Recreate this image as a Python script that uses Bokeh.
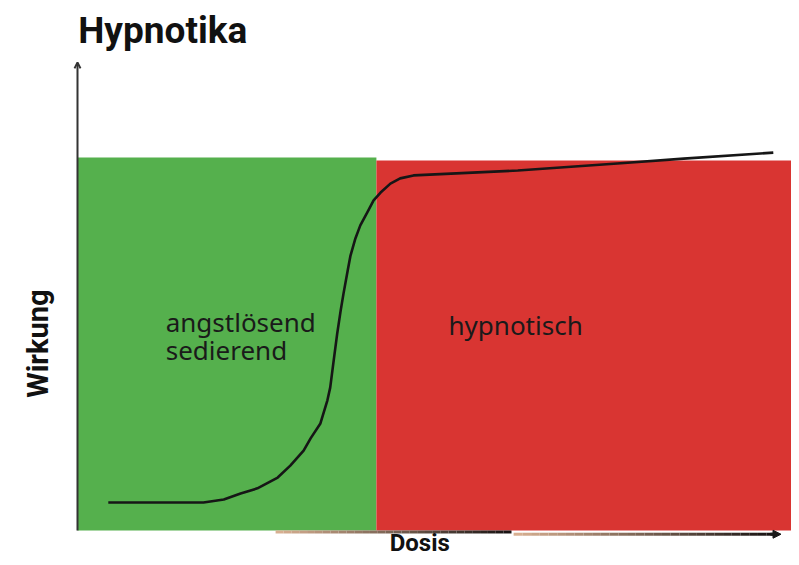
import numpy as np
from bokeh.plotting import figure
from bokeh.models import Arrow, OpenHead, NormalHead
from bokeh.core.properties import value
from bokeh.embed import file_html
from bokeh.resources import INLINE

# ---- data ----
zone_names = ["angstlösend sedierend", "hypnotisch"]
zone_left = [0.0, 4.27]
zone_right = [4.27, 10.3]
zone_top = [100.0, 99.2]
zone_colors = ["#55b04d", "#d93532"]

dose = [0.44, 1.04, 1.80, 2.09, 2.33, 2.57, 2.86, 3.04, 3.23, 3.33, 3.47,
        3.57, 3.61, 3.66, 3.71, 3.76, 3.80, 3.86, 3.90, 3.97, 4.04, 4.14,
        4.23, 4.33, 4.47, 4.61, 4.80, 6.29, 7.71, 8.66, 9.94]
effect = [7.5, 7.5, 7.5, 8.3, 9.9, 11.3, 14.2, 17.4, 21.4, 24.7, 28.7,
          34.9, 38.3, 45.6, 52.8, 59.0, 63.5, 69.7, 73.7, 78.3, 81.8, 85.3,
          88.5, 90.6, 93.0, 94.4, 95.2, 96.5, 98.4, 99.7, 101.3]

title_text = "Hypnotika"
x_label = "Dosis"
y_label = "Wirkung"

# ---- figure ----
p = figure(width=791, height=557, x_range=(-1.1, 10.2), y_range=(-7.239, 142.09),
           x_axis_location=None, y_axis_location=None, min_border=0,
           toolbar_location=None, output_backend="svg")
p.grid.visible = False
p.outline_line_color = None
p.background_fill_color = "white"

p.quad(left=zone_left, right=zone_right, bottom=[0, 0], top=zone_top,
       fill_color=zone_colors, line_color=None)

# x axis with gradient (tan -> black), two strokes like the drawing
def grad_segments(x0, x1, y, n=30):
    xs = np.linspace(x0, x1, n + 1)
    t = np.linspace(0, 1, n)
    c0 = np.array([215, 175, 145]); c1 = np.array([25, 20, 20])
    cols = ["#%02x%02x%02x" % tuple((c0 + (c1 - c0) * ti).astype(int)) for ti in t]
    p.segment(x0=xs[:-1], y0=[y] * n, x1=xs[1:], y1=[y] * n, line_color=cols, line_width=3)

grad_segments(2.83, 6.2, -0.4)
grad_segments(6.23, 9.97, -1.0)
p.add_layout(Arrow(end=NormalHead(size=8, fill_color="#1a1a1a", line_color="#1a1a1a"),
                   x_start=9.9, y_start=-1.0, x_end=10.05, y_end=-1.0,
                   line_color="#1a1a1a", line_width=3))

# y axis arrow
p.add_layout(Arrow(end=OpenHead(size=6, line_color="#333333", line_width=2),
                   x_start=0.0, y_start=0.0, x_end=0.0, y_end=125.5,
                   line_color="#333333", line_width=2))

# curve
p.line(dose, effect, line_color="#161616", line_width=2.6, line_join="round")

# zone texts
p.text(x=[1.26], y=[55.8], text=["angstlösend"], text_font=value("Noto Sans"),
       text_font_size="26px", text_color="#1a1a1a", text_baseline="alphabetic")
p.text(x=[1.26], y=[48.3], text=["sedierend"], text_font=value("Noto Sans"),
       text_font_size="26px", text_color="#1a1a1a", text_baseline="alphabetic")
p.text(x=[5.3], y=[55.0], text=["hypnotisch"], text_font=value("Noto Sans"),
       text_font_size="26px", text_color="#1a1a1a", text_baseline="alphabetic")

# title and axis labels
p.text(x=[0.01], y=[134.05], text=[title_text], text_font=value("Roboto"),
       text_font_style="bold", text_font_size="37px", text_color="#111111",
       text_baseline="alphabetic")
p.text(x=[-0.571], y=[50.1], text=[y_label], angle=np.pi / 2, text_font=value("Roboto"),
       text_font_style="bold", text_font_size="29px", text_color="#111111",
       text_align="center", text_baseline="alphabetic")
p.text(x=[4.89], y=[-3.22], text=[x_label], text_font=value("Roboto"),
       text_font_style="bold", text_font_size="24px", text_color="#111111",
       text_align="center", text_baseline="alphabetic")

open("out.html", "w").write(file_html(p, INLINE))
